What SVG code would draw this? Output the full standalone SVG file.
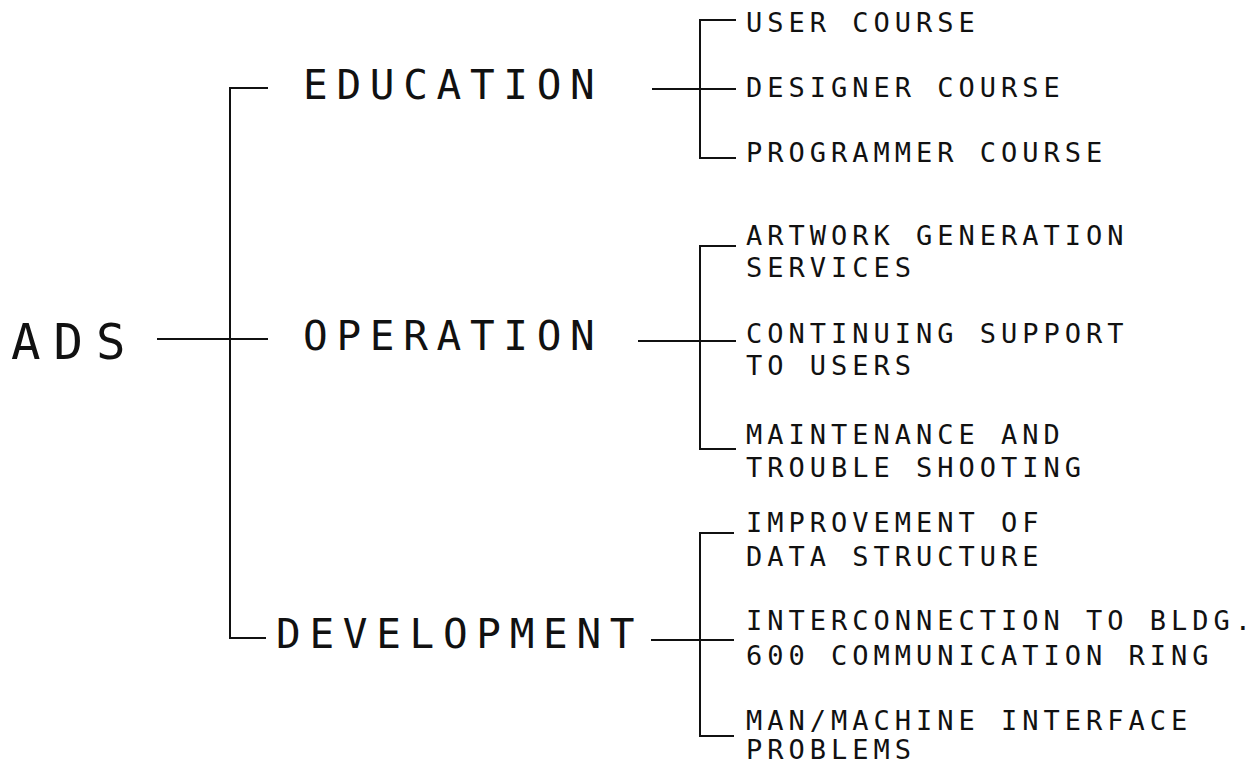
<svg xmlns="http://www.w3.org/2000/svg" width="1258" height="764" viewBox="0 0 1258 764">
  <style>
    .big { font-family: "DejaVu Sans Mono", "Liberation Mono", monospace; font-size: 41px; letter-spacing: 8.7px; fill: #111; }
    .root { font-family: "DejaVu Sans Mono", "Liberation Mono", monospace; font-size: 49px; letter-spacing: 13px; fill: #111; }
    .small { font-family: "DejaVu Sans Mono", "Liberation Mono", monospace; font-size: 27px; letter-spacing: 5px; fill: #111; }
    .wire { stroke: #111; stroke-width: 2; fill: none; }
  </style>
  <rect width="1258" height="764" fill="#ffffff"/>

  <!-- tree connectors -->
  <g id="connectors">
    <!-- ADS to the three branches -->
    <path class="wire" d="M157 339 H268"/>
    <path class="wire" d="M268 88 H230 V638 H266"/>
    <!-- EDUCATION -->
    <path class="wire" d="M652 89 H736"/>
    <path class="wire" d="M736 20 H700 V158 H736"/>
    <!-- OPERATION -->
    <path class="wire" d="M638 341 H736"/>
    <path class="wire" d="M736 246 H700 V449 H736"/>
    <!-- DEVELOPMENT -->
    <path class="wire" d="M651 640 H734"/>
    <path class="wire" d="M734 533 H700 V736 H734"/>
  </g>

  <g id="ads"><text class="root" x="11" y="359">ADS</text></g>

  <g id="education"><text class="big" x="303" y="99">EDUCATION</text></g>
  <g id="operation"><text class="big" x="303" y="350">OPERATION</text></g>
  <g id="development"><text class="big" x="276" y="648">DEVELOPMENT</text></g>

  <g id="user-course"><text class="small" x="746" y="32">USER COURSE</text></g>
  <g id="designer-course"><text class="small" x="746" y="97">DESIGNER COURSE</text></g>
  <g id="programmer-course"><text class="small" x="746" y="162">PROGRAMMER COURSE</text></g>

  <g id="artwork">
    <text class="small" x="746" y="245">ARTWORK GENERATION</text>
    <text class="small" x="746" y="277">SERVICES</text>
  </g>
  <g id="support">
    <text class="small" x="746" y="343">CONTINUING SUPPORT</text>
    <text class="small" x="746" y="375">TO USERS</text>
  </g>
  <g id="maintenance">
    <text class="small" x="746" y="444">MAINTENANCE AND</text>
    <text class="small" x="746" y="477">TROUBLE SHOOTING</text>
  </g>

  <g id="data-structure">
    <text class="small" x="746" y="532">IMPROVEMENT OF</text>
    <text class="small" x="746" y="566">DATA STRUCTURE</text>
  </g>
  <g id="interconnection">
    <text class="small" x="746" y="630">INTERCONNECTION TO BLDG.</text>
    <text class="small" x="746" y="665">600 COMMUNICATION RING</text>
  </g>
  <g id="interface">
    <text class="small" x="746" y="730">MAN/MACHINE INTERFACE</text>
    <text class="small" x="746" y="759">PROBLEMS</text>
  </g>
</svg>
